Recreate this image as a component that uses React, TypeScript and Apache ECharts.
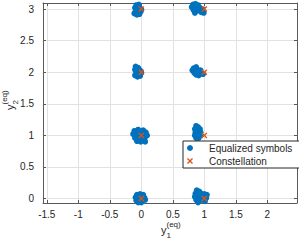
import React, { useEffect, useRef } from "react";
import * as echarts from "echarts";

const constellation: number[][] = [
  [0, 0], [0, 1], [0, 2], [0, 3], [1, 0], [1, 1], [1, 2], [1, 3],
];

const cluster03: number[][] = [
  [-0.08, 3.06], [-0.04, 3.07], [-0.1, 3.02], [-0.06, 3.0], [-0.02, 3.01], [0.0, 2.99], [-0.09, 2.96],
  [-0.05, 2.95], [-0.11, 2.93], [-0.07, 2.91], [-0.03, 2.92], [-0.01, 2.96], [-0.08, 2.98], [-0.04, 3.03],
];
const cluster13: number[][] = [
  [0.82, 3.07], [0.86, 3.08], [0.9, 3.06], [0.8, 3.03], [0.84, 3.02], [0.88, 3.03], [0.93, 3.02], [0.97, 3.0],
  [0.83, 2.98], [0.87, 2.97], [0.91, 2.98], [0.85, 2.94], [0.95, 2.95], [0.99, 2.94], [0.89, 3.0],
];
const cluster02: number[][] = [
  [-0.09, 2.09], [-0.05, 2.07], [-0.1, 2.04], [-0.06, 2.02], [-0.02, 2.03], [-0.08, 1.99], [-0.04, 1.98],
  [0.0, 1.99], [-0.1, 1.95], [-0.06, 1.93], [-0.02, 1.94], [-0.07, 2.05],
];
const cluster12: number[][] = [
  [0.83, 2.06], [0.87, 2.08], [0.81, 2.03], [0.85, 2.03], [0.89, 2.04], [0.84, 1.99], [0.88, 2.0],
  [0.92, 2.01], [0.95, 1.98], [0.87, 1.96], [0.91, 1.95], [0.98, 1.97], [0.94, 2.03],
];
const cluster01: number[][] = [
  [-0.11, 1.07], [-0.05, 1.09], [0.03, 1.08], [0.07, 1.05], [-0.13, 1.02], [-0.08, 1.01], [-0.03, 1.03],
  [0.02, 1.01], [0.09, 1.0], [-0.1, 0.96], [-0.05, 0.95], [0.0, 0.96], [0.05, 0.95], [-0.07, 0.91],
  [-0.01, 0.9], [0.06, 0.9],
];
const cluster11: number[][] = [
  [0.87, 1.15], [0.9, 1.13], [0.85, 1.1], [0.89, 1.09], [0.93, 1.1], [0.86, 1.05], [0.9, 1.04],
  [0.94, 1.05], [0.85, 1.0], [0.89, 0.99], [0.93, 1.0], [0.87, 0.96], [0.91, 0.96],
];
const cluster00: number[][] = [
  [-0.07, 0.06], [-0.02, 0.07], [0.03, 0.06], [-0.09, 0.02], [-0.04, 0.01], [0.01, 0.02], [0.05, 0.01],
  [-0.08, -0.03], [-0.03, -0.04], [0.02, -0.03], [0.06, -0.02], [-0.05, -0.06], [0.0, -0.06],
];
const cluster10: number[][] = [
  [0.88, 0.13], [0.92, 0.11], [0.86, 0.08], [0.9, 0.07], [0.95, 0.08], [1.0, 0.07], [1.04, 0.06],
  [0.85, 0.03], [0.89, 0.02], [0.94, 0.03], [0.98, 0.02], [1.03, 0.01], [0.87, -0.02], [0.92, -0.03],
  [0.97, -0.02], [1.01, -0.04], [0.9, -0.06],
];

const xRange = [-1.56, 2.47];
const yRange = [-0.07, 3.095];
const seriesNames = ["Equalized symbols", "Constellation"];
const xTitle = { main: "y", sub: "1", sup: "(eq)" };
const yTitle = { main: "y", sub: "2", sup: "(eq)" };

const FONT = "'Liberation Sans', Arial, Helvetica, sans-serif";
const TXT = "#262626";
const AXIS = "#5a5a5a";
const GRIDC = "#e2e2e2";
const BLUE = "#0072BD";
const RED = "#D95319";
const XPATH = "path://M0,1.6L1.6,0L5,3.4L8.4,0L10,1.6L6.6,5L10,8.4L8.4,10L5,6.6L1.6,10L0,8.4L3.4,5Z";

function titleGroup(x: number, y: number, rotation: number, t: { main: string; sub: string; sup: string }) {
  return {
    type: "group",
    x,
    y,
    rotation,
    children: [
      { type: "text", x: 0, y: 0, style: { text: t.main, fontSize: 11, fontFamily: FONT, fill: TXT, textAlign: "left", textVerticalAlign: "middle" } },
      { type: "text", x: 5.5, y: -5.5, style: { text: t.sup, fontSize: 8, fontFamily: FONT, fill: TXT, textAlign: "left", textVerticalAlign: "middle" } },
      { type: "text", x: 5.5, y: 5.5, style: { text: t.sub, fontSize: 8, fontFamily: FONT, fill: TXT, textAlign: "left", textVerticalAlign: "middle" } },
    ],
  };
}

export default function App() {
  const ref = useRef<HTMLDivElement>(null);
  useEffect(() => {
    if (!ref.current) return;
    const chart = echarts.init(ref.current, null, { renderer: "svg" });
    const equalized = [
      ...cluster00, ...cluster01, ...cluster02, ...cluster03,
      ...cluster10, ...cluster11, ...cluster12, ...cluster13,
    ];
    const baseAxis = {
      type: "value",
      axisLine: { show: true, onZero: false, lineStyle: { color: AXIS, width: 1 } },
      axisTick: { show: true, inside: true, length: 3, lineStyle: { color: AXIS } },
    };
    chart.setOption({
      animation: false,
      grid: { left: 43, top: 3, right: 2, bottom: 40, containLabel: false },
      xAxis: [
        {
          ...baseAxis,
          position: "bottom",
          min: xRange[0],
          max: xRange[1],
          splitNumber: 8,
          axisLabel: { show: true, showMinLabel: false, showMaxLabel: false, margin: 6, color: TXT, fontSize: 10, fontFamily: FONT },
          splitLine: { show: true, lineStyle: { color: GRIDC, width: 1 } },
        },
        {
          ...baseAxis,
          position: "top",
          min: xRange[0],
          max: xRange[1],
          splitNumber: 8,
          axisLabel: { show: false },
          splitLine: { show: false },
        },
      ],
      yAxis: [
        {
          ...baseAxis,
          position: "left",
          min: yRange[0],
          max: yRange[1],
          splitNumber: 6,
          axisLabel: { show: true, showMinLabel: false, showMaxLabel: false, margin: 9, color: TXT, fontSize: 10, fontFamily: FONT },
          splitLine: { show: true, lineStyle: { color: GRIDC, width: 1 } },
        },
        {
          ...baseAxis,
          position: "right",
          min: yRange[0],
          max: yRange[1],
          splitNumber: 6,
          axisLabel: { show: false },
          splitLine: { show: false },
        },
      ],
      legend: {
        orient: "vertical",
        left: 183,
        top: 141,
        padding: [1, 9, 1, 4],
        itemGap: 1,
        itemWidth: 14,
        itemHeight: 6,
        backgroundColor: "#ffffff",
        borderColor: TXT,
        borderWidth: 1,
        borderRadius: 0,
        textStyle: { color: TXT, fontSize: 10, fontFamily: FONT, lineHeight: 12, padding: [0, 0, 0, 7] },
        data: [
          { name: seriesNames[0], icon: "circle" },
          { name: seriesNames[1], icon: XPATH },
        ],
      },
      series: [
        {
          name: seriesNames[0],
          type: "scatter",
          xAxisIndex: 0,
          yAxisIndex: 0,
          symbol: "circle",
          symbolSize: 6,
          itemStyle: { color: BLUE, opacity: 1 },
          data: equalized,
        },
        {
          name: seriesNames[1],
          type: "scatter",
          xAxisIndex: 0,
          yAxisIndex: 0,
          symbol: XPATH,
          symbolSize: 6,
          itemStyle: { color: RED, opacity: 1 },
          data: constellation,
          z: 3,
        },
      ],
      graphic: [
        titleGroup(161, 230, 0, xTitle),
        titleGroup(10, 110, Math.PI / 2, yTitle),
      ],
    });
    return () => chart.dispose();
  }, []);
  return (
    <div
      ref={ref}
      style={{ position: "absolute", left: 0, top: 0, width: 299, height: 243, background: "#ffffff" }}
    />
  );
}
